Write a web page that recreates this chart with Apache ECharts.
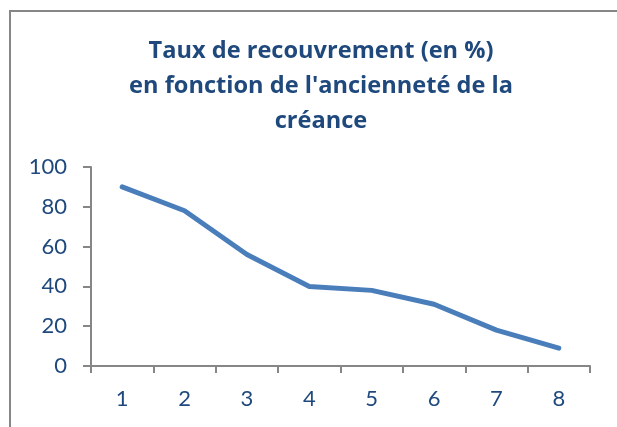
<!DOCTYPE html>
<html>
<head>
<meta charset="utf-8">
<script src="https://cdn.jsdelivr.net/npm/echarts@6/dist/echarts.min.js"></script>
<style>
  html, body { margin: 0; padding: 0; background: #fff; }
  #chart { width: 617px; height: 427px; }
</style>
</head>
<body>
<div id="chart"></div>
<script>
// chart data
const titleText = "Taux de recouvrement (en %)\nen fonction de l'ancienneté de la\ncréance";
const categories = ['1', '2', '3', '4', '5', '6', '7', '8'];
const recoveryRate = [90, 78, 56, 40, 38, 31, 18, 9];

const axisGray = '#868686';
const labelBlue = '#1F497D';

const chart = echarts.init(document.getElementById('chart'));

chart.setOption({
  backgroundColor: '#fff',
  animation: false,
  textStyle: { fontFamily: 'Lato' },
  graphic: [{
    // outer chart-area frame, runs off the right and bottom edges
    type: 'rect',
    shape: { x: 10, y: 11, width: 640, height: 440 },
    style: { fill: 'none', stroke: axisGray, lineWidth: 2 },
    silent: true
  }],
  title: {
    text: titleText,
    left: 316,
    textAlign: 'center',
    top: 29,
    textStyle: {
      fontFamily: 'Open Sans',
      fontWeight: 'bold',
      fontSize: 23.6,
      lineHeight: 35,
      color: labelBlue
    }
  },
  grid: { left: 91, right: 27, top: 167, bottom: 61 },
  xAxis: {
    type: 'category',
    data: categories,
    boundaryGap: true,
    axisLine: { lineStyle: { color: axisGray, width: 2 } },
    axisTick: { show: true, length: 7, alignWithLabel: false, lineStyle: { color: axisGray, width: 2 } },
    axisLabel: { color: labelBlue, fontSize: 22, margin: 22, fontFamily: 'Lato' },
    splitLine: { show: false }
  },
  yAxis: {
    type: 'value',
    min: 0,
    max: 100,
    interval: 20,
    axisLine: { show: true, lineStyle: { color: axisGray, width: 2 } },
    axisTick: { show: true, length: 8, lineStyle: { color: axisGray, width: 2 } },
    axisLabel: { color: labelBlue, fontSize: 22, margin: 24, fontFamily: 'Lato' },
    splitLine: { show: false }
  },
  series: [{
    type: 'line',
    data: recoveryRate,
    symbol: 'none',
    lineStyle: { color: '#4A7EBB', width: 5, cap: 'round', join: 'round' }
  }]
});
</script>
</body>
</html>
